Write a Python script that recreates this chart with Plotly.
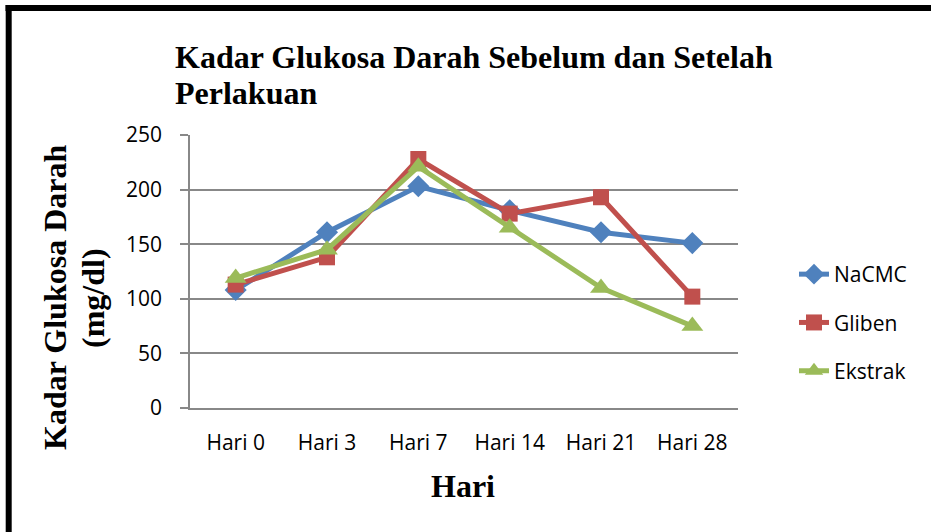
import plotly.graph_objects as go

categories = ["Hari 0", "Hari 3", "Hari 7", "Hari 14", "Hari 21", "Hari 28"]
nacmc = [108, 161, 203, 181, 161, 151]
gliben = [113, 138, 228, 178, 193, 102]
ekstrak = [119, 145, 221, 165, 110, 75]
y_ticks = [0, 50, 100, 150, 200, 250]

W, H = 931, 532
L, R, T, B = 190, 931 - 738, 135, 532 - 408
PW, PH = W - L - R, H - T - B


def px(x):
    return (x - L) / PW


def py(y):
    return (H - B - y) / PH


fig = go.Figure()
series = [
    ("NaCMC", nacmc, "#4F81BD", "diamond", 17),
    ("Gliben", gliben, "#C0504D", "square", 16),
    ("Ekstrak", ekstrak, "#9BBB59", "triangle-up", 19),
]
for name, vals, col, sym, sz in series:
    fig.add_trace(go.Scatter(
        x=categories, y=vals, name=name, mode="lines+markers",
        line=dict(color=col, width=5),
        marker=dict(symbol=sym, size=sz, color=col),
        legendgroup=name,
    ))

serif = "Liberation Serif, Times New Roman, serif"
sans = "Open Sans, Liberation Sans, sans-serif"
TS = 32

fig.update_layout(
    width=W, height=H,
    margin=dict(l=L, r=R, t=T, b=B),
    paper_bgcolor="white", plot_bgcolor="white",
    showlegend=True,
    legend=dict(x=px(794), y=py(254), xanchor="left", yanchor="top",
                font=dict(family=sans, size=21, color="black"),
                tracegroupgap=18, bgcolor="rgba(0,0,0,0)"),
    xaxis=dict(type="category", showgrid=False, showline=True,
               linecolor="#888888", linewidth=1.5, ticks="",
               tickfont=dict(family=sans, size=21, color="black"),
               ticklabelstandoff=15, range=[-0.5, 5.5]),
    yaxis=dict(range=[0, 250], tickvals=y_ticks, showgrid=True,
               gridcolor="#888888", gridwidth=1.5, showline=True,
               linecolor="#888888", linewidth=1.5, ticks="outside",
               ticklen=8, tickcolor="#888888", tickwidth=1.5,
               tickfont=dict(family=sans, size=21, color="black"),
               ticklabelstandoff=14, zeroline=False),
    annotations=[
        dict(text="<b>Kadar Glukosa Darah Sebelum dan Setelah</b>", x=px(173), y=py(57),
             xref="paper", yref="paper", xanchor="left", yanchor="middle",
             showarrow=False, font=dict(family=serif, size=TS, color="black")),
        dict(text="<b>Perlakuan</b>", x=px(173), y=py(93),
             xref="paper", yref="paper", xanchor="left", yanchor="middle",
             showarrow=False, font=dict(family=serif, size=TS, color="black")),
        dict(text="<b>Kadar Glukosa Darah</b>", x=px(55), y=py(298), textangle=-90,
             xref="paper", yref="paper", xanchor="center", yanchor="middle",
             showarrow=False, font=dict(family=serif, size=TS, color="black")),
        dict(text="<b>(mg/dl)</b>", x=px(93), y=py(298), textangle=-90,
             xref="paper", yref="paper", xanchor="center", yanchor="middle",
             showarrow=False, font=dict(family=serif, size=TS, color="black")),
        dict(text="<b>Hari</b>", x=px(463), y=py(486),
             xref="paper", yref="paper", xanchor="center", yanchor="middle",
             showarrow=False, font=dict(family=serif, size=TS, color="black")),
    ],
    shapes=[
        dict(type="line", xref="paper", yref="paper", x0=px(5.5), x1=px(960),
             y0=py(8), y1=py(8), line=dict(color="black", width=6)),
        dict(type="line", xref="paper", yref="paper", x0=px(8.7), x1=px(8.7),
             y0=py(5), y1=py(560), line=dict(color="black", width=6)),
    ],
)

fig.write_html("out.html", config={"displayModeBar": False},
               post_script="document.body.style.margin='0px';document.body.style.overflow='hidden';")
